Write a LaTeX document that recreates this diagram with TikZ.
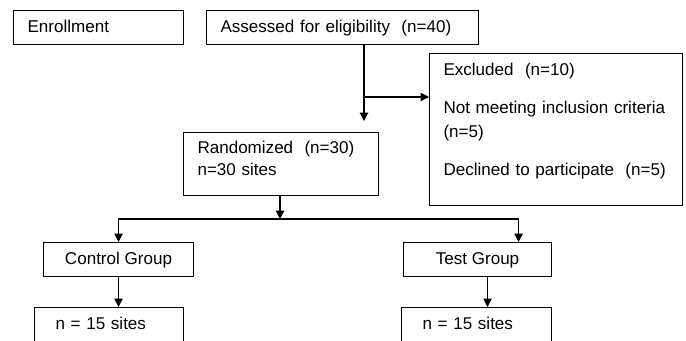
\documentclass[tikz,border=0pt]{standalone}
\usepackage{fontspec}
\setmainfont{Liberation Sans}
\usetikzlibrary{arrows.meta}

\tikzset{
  box/.style={draw, line width=0.6pt, anchor=north west, inner xsep=0.28cm, inner ysep=0pt,
    align=left, text height=0.44cm, text depth=0.24cm, font=\fontsize{9.7}{12.5}\selectfont},
  link/.style={line width=0.6pt, ->, >={Triangle[length=0.17cm,width=0.17cm]}},
}

\begin{document}
\begin{tikzpicture}[line join=miter]
  \useasboundingbox (0,0) rectangle (13.72,-6.80);
  \clip (0,0) rectangle (13.72,-6.80);
  \node[box, text width=2.84cm] (enroll) at (0.26,-0.20) {Enrollment};
  \node[box, text width=4.88cm] (assessed) at (4.12,-0.20) {Assessed for eligibility~~(n=40)};
  \node[box, text width=4.50cm, text depth=2.60cm] (excl) at (8.58,-1.06)
    {Excluded~~(n=10)\\[0.32cm] Not meeting inclusion criteria\\[0.04cm] (n=5)\\[0.32cm] Declined to participate~~(n=5)};
  \node[box, text width=3.34cm, text height=0.42cm, text depth=0.84cm] (rnd) at (3.66,-2.64)
    {Randomized~~(n=30)\\ n=30 sites};
  \node[box, align=center, minimum width=3.00cm] (ctrl) at (0.86,-4.84) {Control Group};
  \node[box, align=center, minimum width=2.96cm] (test) at (8.06,-4.84) {Test Group};
  \node[box, inner xsep=0.42cm, text width=2.14cm] (cn) at (0.68,-6.14) {n = 15 sites};
  \node[box, inner xsep=0.42cm, text width=2.16cm] (tn) at (8.02,-6.14) {n = 15 sites};

  \coordinate (rndin) at (7.28,-2.42);
  \coordinate (split) at (7.28,-1.94);
  \coordinate (fork) at (5.60,-4.38);
  \coordinate (tin) at ([xshift=0.82cm]test.north);
  \coordinate (tout) at ([xshift=0.20cm]test.south);

  \draw[link] (assessed.south -| rndin) -- (rndin);
  \draw[link] (split) -- (split -| excl.west);
  \draw[link] (rnd.south -| fork) -- (fork);
  \draw[link] (fork) -| (ctrl.north);
  \draw[link] (fork) -| (tin);
  \draw[link] (ctrl.south) -- (ctrl.south |- cn.north);
  \draw[link] (tout) -- (tout |- tn.north);
\end{tikzpicture}
\end{document}
